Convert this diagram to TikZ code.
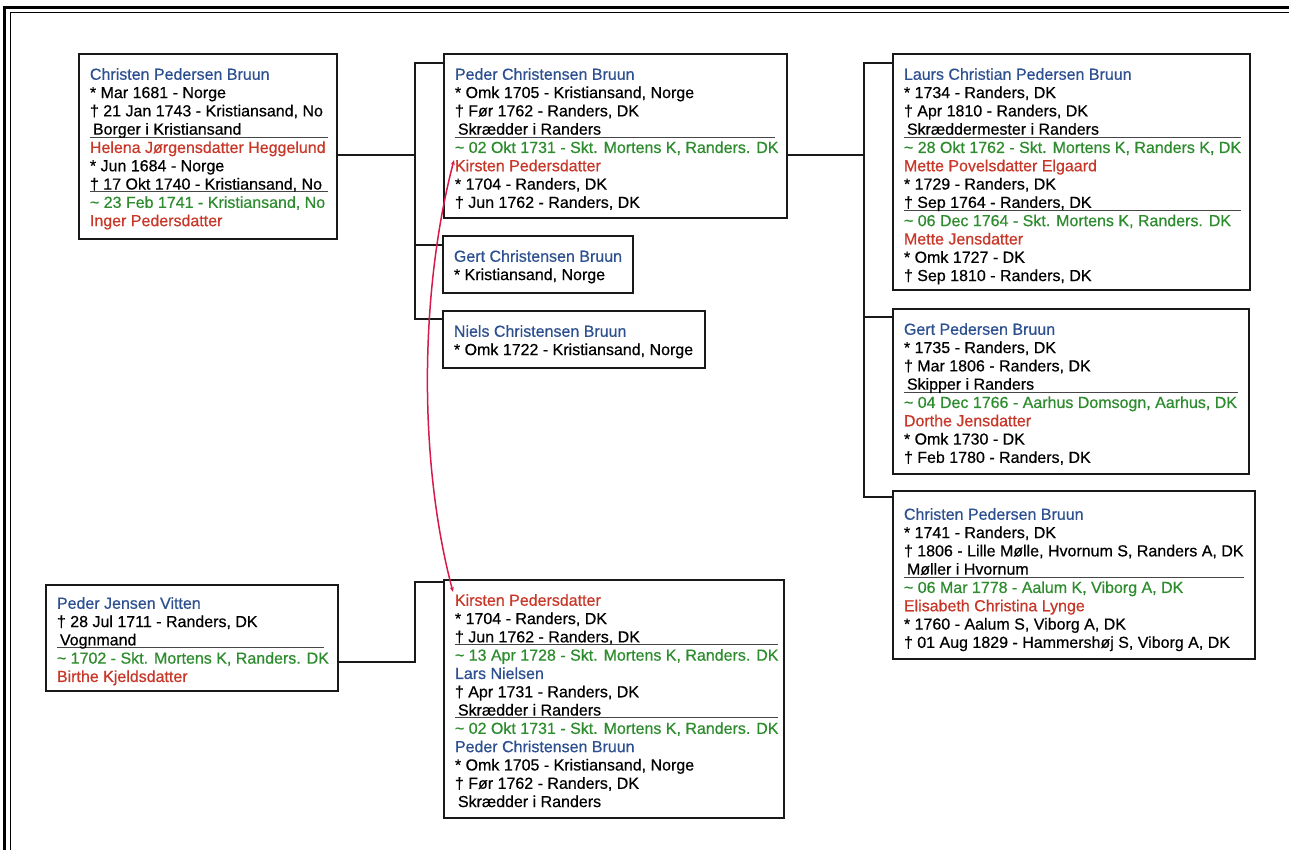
\documentclass[tikz,border=0pt]{standalone}
\usepackage{fontspec}
\setmainfont{Liberation Sans}[FakeBold=0.5]
\usetikzlibrary{arrows.meta}
\definecolor{nblue}{RGB}{45,80,145}
\definecolor{nred}{RGB}{200,55,40}
\definecolor{ngreen}{RGB}{45,140,45}
\definecolor{curvec}{RGB}{215,25,75}
\definecolor{sepc}{RGB}{70,70,70}
\newcommand{\fline}[1]{\hbox{\hskip11pt\strut#1}}
\newcommand{\fsep}[1]{\rlap{\color{sepc}\rule[-2.8pt]{#1pt}{0.9pt}}}
\newcommand{\occ}{\hspace*{3pt}}
\newcommand{\cB}[1]{{\color{nblue}#1}}
\newcommand{\cR}[1]{{\color{nred}#1}}
\newcommand{\cG}[1]{{\color{ngreen}\textasciitilde{} #1}}
\newcommand{\famcard}[7]{\node[famb] (#1) at (#2,#3) {\vbox to #5pt{\hrule height0pt width#4pt\kern#6pt #7\vss}};}
\begin{document}
\begin{tikzpicture}[x=1pt,y=-1pt,
  famb/.style={draw=black!90, line width=1.9pt, inner sep=0pt, anchor=north west, fill=white,
    font=\fontsize{16}{18.3}\selectfont},
  conn/.style={draw=black!90, line width=1.8pt},
  redc/.style={draw=curvec, line width=1.5pt, {Stealth[length=5pt,width=4pt]}-{Stealth[length=5pt,width=4pt]}}]
\useasboundingbox[fill=white] (0,0) rectangle (1289,850);
% page frame
\draw[line width=3pt] (4.5,850) -- (4.5,7.5) -- (1289,7.5);
\draw[line width=1.4pt] (10.5,850) -- (10.5,12.5) -- (1289,12.5);

\famcard{A}{78}{53}{258}{185}{13}{%
\fline{\cB{Christen Pedersen Bruun}}
\fline{* Mar 1681 - Norge}
\fline{† 21 Jan 1743 - Kristiansand, No}
\fline{\fsep{238}\occ Borger i Kristiansand}
\fline{\cR{Helena Jørgensdatter Heggelund}}
\fline{* Jun 1684 - Norge}
\fline{\fsep{238}† 17 Okt 1740 - Kristiansand, No}
\fline{\cG{23 Feb 1741 - Kristiansand, No}}
\fline{\cR{Inger Pedersdatter}}}

\famcard{B}{443}{53}{343}{164}{13}{%
\fline{\cB{Peder Christensen Bruun}}
\fline{* Omk 1705 - Kristiansand, Norge}
\fline{† Før 1762 - Randers, DK}
\fline{\fsep{320}\occ Skrædder i Randers}
\fline{\cG{02 Okt 1731 - Skt. Mortens K, Randers. DK}}
\fline{\cR{Kirsten Pedersdatter}}
\fline{* 1704 - Randers, DK}
\fline{† Jun 1762 - Randers, DK}}

\famcard{H}{442}{235}{190}{57}{13}{%
\fline{\cB{Gert Christensen Bruun}}
\fline{* Kristiansand, Norge}}

\famcard{I}{442}{310}{262}{57}{13}{%
\fline{\cB{Niels Christensen Bruun}}
\fline{* Omk 1722 - Kristiansand, Norge}}

\famcard{C}{892}{53}{357}{236}{13}{%
\fline{\cB{Laurs Christian Pedersen Bruun}}
\fline{* 1734 - Randers, DK}
\fline{† Apr 1810 - Randers, DK}
\fline{\fsep{337}\occ Skræddermester i Randers}
\fline{\cG{28 Okt 1762 - Skt. Mortens K, Randers K, DK}}
\fline{\cR{Mette Povelsdatter Elgaard}}
\fline{* 1729 - Randers, DK}
\fline{\fsep{337}† Sep 1764 - Randers, DK}
\fline{\cG{06 Dec 1764 - Skt. Mortens K, Randers. DK}}
\fline{\cR{Mette Jensdatter}}
\fline{* Omk 1727 - DK}
\fline{† Sep 1810 - Randers, DK}}

\famcard{D}{892}{308}{356}{165}{13}{%
\fline{\cB{Gert Pedersen Bruun}}
\fline{* 1735 - Randers, DK}
\fline{† Mar 1806 - Randers, DK}
\fline{\fsep{334}\occ Skipper i Randers}
\fline{\cG{04 Dec 1766 - Aarhus Domsogn, Aarhus, DK}}
\fline{\cR{Dorthe Jensdatter}}
\fline{* Omk 1730 - DK}
\fline{† Feb 1780 - Randers, DK}}

\famcard{E}{892}{490}{362}{168}{16}{%
\fline{\cB{Christen Pedersen Bruun}}
\fline{* 1741 - Randers, DK}
\fline{† 1806 - Lille Mølle, Hvornum S, Randers A, DK}
\fline{\fsep{340}\occ Møller i Hvornum}
\fline{\cG{06 Mar 1778 - Aalum K, Viborg A, DK}}
\fline{\cR{Elisabeth Christina Lynge}}
\fline{* 1760 - Aalum S, Viborg A, DK}
\fline{† 01 Aug 1829 - Hammershøj S, Viborg A, DK}}

\famcard{F}{45}{584}{292}{106}{11}{%
\fline{\cB{Peder Jensen Vitten}}
\fline{† 28 Jul 1711 - Randers, DK}
\fline{\fsep{267}\occ Vognmand}
\fline{\cG{1702 - Skt. Mortens K, Randers. DK}}
\fline{\cR{Birthe Kjeldsdatter}}}

\famcard{G}{443}{579}{340}{238}{13}{%
\fline{\cR{Kirsten Pedersdatter}}
\fline{* 1704 - Randers, DK}
\fline{\fsep{323}† Jun 1762 - Randers, DK}
\fline{\cG{13 Apr 1728 - Skt. Mortens K, Randers. DK}}
\fline{\cB{Lars Nielsen}}
\fline{† Apr 1731 - Randers, DK}
\fline{\fsep{323}\occ Skrædder i Randers}
\fline{\cG{02 Okt 1731 - Skt. Mortens K, Randers. DK}}
\fline{\cB{Peder Christensen Bruun}}
\fline{* Omk 1705 - Kristiansand, Norge}
\fline{† Før 1762 - Randers, DK}
\fline{\occ Skrædder i Randers}}

% connectors
\coordinate (j1) at (415,155);
\coordinate (b1) at (415,63);
\coordinate (h1) at (415,245);
\coordinate (i1) at (415,319);
\draw[conn] (A.east |- j1) -- (j1);
\draw[conn] (B.west |- b1) -- (b1) -- (i1) -- (I.west |- i1);
\draw[conn] (h1) -- (H.west |- h1);

\coordinate (j2) at (864,155);
\coordinate (c1) at (864,63);
\coordinate (d1) at (864,317);
\coordinate (e1) at (864,497);
\draw[conn] (B.east |- j2) -- (j2);
\draw[conn] (C.west |- c1) -- (c1) -- (e1) -- (E.west |- e1);
\draw[conn] (d1) -- (D.west |- d1);

\coordinate (j3) at (415,662);
\coordinate (g1) at (415,582);
\draw[conn] (F.east |- j3) -- (j3) -- (g1) -- (G.west |- g1);

% link between the two Kirsten entries
\coordinate (kt) at (454,160);
\coordinate (kb) at (453,592);
\draw[redc] (kt) .. controls (420,290) and (418,460) .. (kb);
\end{tikzpicture}
\end{document}
